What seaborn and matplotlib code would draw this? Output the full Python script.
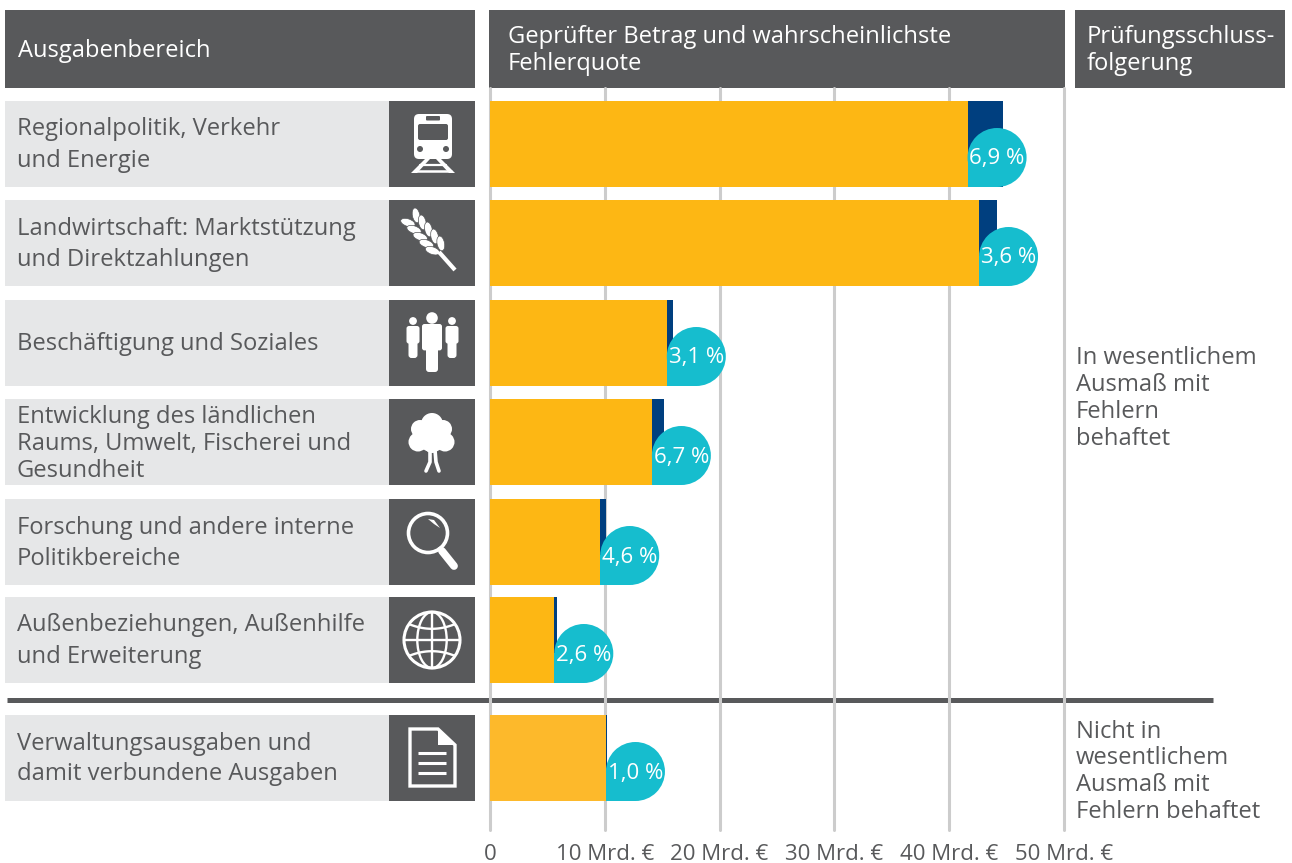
import numpy as np
import pandas as pd
import matplotlib
matplotlib.use('Agg')
import matplotlib.pyplot as plt
from matplotlib.patches import Rectangle, Circle, Ellipse, FancyBboxPatch, Polygon
import seaborn as sns

# values, Mrd. Euro
categories = ['Regionalpolitik', 'Landwirtschaft', 'Beschaeftigung', 'Entwicklung',
              'Forschung', 'Aussenbeziehungen', 'Verwaltung']
total_amount = [44.7, 44.2, 15.9, 15.2, 10.1, 5.8, 10.2]
correct_amount = [41.6, 42.6, 15.4, 14.1, 9.6, 5.6, 10.1]
error_labels = ['6,9 %', '3,6 %', '3,1 %', '6,7 %', '4,6 %', '2,6 %', '1,0 %']
row_labels = [['Regionalpolitik, Verkehr', 'und Energie'],
              ['Landwirtschaft: Marktstützung', 'und Direktzahlungen'],
              ['Beschäftigung und Soziales'],
              ['Entwicklung des ländlichen', 'Raums, Umwelt, Fischerei und', 'Gesundheit'],
              ['Forschung und andere interne', 'Politikbereiche'],
              ['Außenbeziehungen, Außenhilfe', 'und Erweiterung'],
              ['Verwaltungsausgaben und', 'damit verbundene Ausgaben']]
x_ticks = [0, 10, 20, 30, 40, 50]
x_tick_labels = ['0', '10 Mrd. €', '20 Mrd. €', '30 Mrd. €', '40 Mrd. €', '50 Mrd. €']

# layout in pixels
W, H = 1292, 863
row_center = [144, 243, 343, 442, 542, 640, 758]
row_h = 86
DARK = '#58595B'
LIGHT = '#E6E7E8'
YELLOW = '#FDB714'
YELLOW2 = '#FDB92B'
NAVY = '#003F7F'
CYAN = '#16BDCE'
GRID = '#CCCCCC'
TXT = '#58595B'

sns.set_theme(style='white')
plt.rcParams['font.family'] = ['Open Sans', 'DejaVu Sans']
FS = 17.1

fig = plt.figure(figsize=(W / 100, H / 100), dpi=100, facecolor='white')

# background axes in pixel coordinates for boxes, text and icons
bg = fig.add_axes([0, 0, 1, 1], zorder=1)
bg.set_xlim(0, W)
bg.set_ylim(H, 0)
bg.axis('off')


def label(x, y, s, color=TXT):
    bg.text(x, y + 3, s, color=color, fontsize=FS, va='center')


for x0, x1 in [(5, 475), (489, 1065), (1075, 1285)]:
    bg.add_patch(Rectangle((x0, 10), x1 - x0, 78, fc=DARK, ec='none'))
label(18, 48, 'Ausgabenbereich', 'white')
label(508, 34, 'Geprüfter Betrag und wahrscheinlichste', 'white')
label(508, 61, 'Fehlerquote', 'white')
label(1087, 34, 'Prüfungsschluss-', 'white')
label(1087, 61, 'folgerung', 'white')

line_gap = [32, 31, 0, 27, 31, 32, 30]
for c, lines, gap in zip(row_center, row_labels, line_gap):
    bg.add_patch(Rectangle((5, c - row_h / 2), 384, row_h, fc=LIGHT, ec='none'))
    bg.add_patch(Rectangle((389, c - row_h / 2), 86, row_h, fc=DARK, ec='none'))
    top = c - gap * (len(lines) - 1) / 2
    for i, line in enumerate(lines):
        label(17, top + i * gap - 2 + (1 if len(lines) == 3 else 0), line)

for y, t in zip([355, 382, 409, 436], ['In wesentlichem', 'Ausmaß mit', 'Fehlern', 'behaftet']):
    label(1076, y, t)
for y, t in zip([729, 755, 782, 809], ['Nicht in', 'wesentlichem', 'Ausmaß mit', 'Fehlern behaftet']):
    label(1076, y, t)

bg.plot([7, 1213], [700, 700], color=DARK, lw=3.6, solid_capstyle='butt', zorder=6)


# icons
def icon_train(cx, cy):
    bg.add_patch(FancyBboxPatch((cx - 18, cy - 30), 38, 45, boxstyle='round,pad=0,rounding_size=5',
                                fc='white', ec='none'))
    bg.add_patch(FancyBboxPatch((cx - 14, cy - 20), 30, 16, boxstyle='round,pad=0,rounding_size=2',
                                fc=DARK, ec='none'))
    bg.add_patch(FancyBboxPatch((cx - 6, cy - 28), 14, 4.5, boxstyle='round,pad=0,rounding_size=1',
                                fc=DARK, ec='none'))
    bg.add_patch(Circle((cx - 12, cy + 5), 3, fc=DARK, ec='none'))
    bg.add_patch(Circle((cx + 14, cy + 5), 3, fc=DARK, ec='none'))
    bg.add_patch(Polygon([(cx - 7, cy + 15), (cx - 2, cy + 15), (cx - 15, cy + 29), (cx - 21, cy + 29)],
                         fc='white', ec='none'))
    bg.add_patch(Polygon([(cx + 9, cy + 15), (cx + 4, cy + 15), (cx + 17, cy + 29), (cx + 23, cy + 29)],
                         fc='white', ec='none'))
    bg.plot([cx - 12, cx + 14], [cy + 21, cy + 21], color='white', lw=1.6)
    bg.plot([cx - 17, cx + 19], [cy + 27, cy + 27], color='white', lw=1.8)


def icon_wheat(cx, cy):
    bg.plot([cx + 7, cx + 23], [cy + 9, cy + 27], color='white', lw=3.0, solid_capstyle='butt')
    p0 = np.array([cx - 20, cy - 24])
    p1 = np.array([cx + 9, cy + 9])
    ang = np.degrees(np.arctan2(*(p1 - p0)[::-1]))
    n = np.array([-(p1 - p0)[1], (p1 - p0)[0]]) / np.linalg.norm(p1 - p0)
    for t in np.linspace(0.0, 0.85, 5):
        p = p0 + t * (p1 - p0)
        for side, a in [(1, -30), (-1, 30)]:
            q = p + side * n * 5.5
            bg.add_patch(Ellipse(q, 15, 7.5, angle=ang + a, fc='white', ec=DARK, lw=0.5))


def icon_people(cx, cy):
    for dx, dy, r, w, top, bot, leg in [(-19, -22, 3.9, 13, -17, 15, 9), (20, -22, 3.9, 13, -17, 15, 9),
                                        (0, -25, 5.8, 20, -19, 29, 12)]:
        bg.add_patch(Circle((cx + dx, cy + dy), r, fc='white', ec='none'))
        bg.add_patch(FancyBboxPatch((cx + dx - w / 2, cy + top), w, (bot - top) * 0.55,
                                    boxstyle='round,pad=0,rounding_size=2.5', fc='white', ec='none'))
        bg.add_patch(FancyBboxPatch((cx + dx - leg / 2, cy + top + 5), leg, bot - top - 5,
                                    boxstyle='round,pad=0,rounding_size=3', fc='white', ec='none'))


def icon_tree(cx, cy):
    for dx, dy, r in [(0, -18, 11), (-14, 0, 9.5), (13, 0, 9.5), (-12, -13, 9), (11, -13, 9), (0, -5, 15), (0, 3, 8)]:
        bg.add_patch(Circle((cx + dx, cy + dy), r, fc='white', ec='none'))
    bg.plot([cx - 2, cx - 2, cx - 6], [cy + 8, cy + 20, cy + 29], color='white', lw=2.6)
    bg.plot([cx + 3, cx + 4, cx + 7], [cy + 8, cy + 20, cy + 29], color='white', lw=2.6)


def icon_lens(cx, cy):
    bg.add_patch(Circle((cx - 4, cy - 9), 19.5, fc='none', ec='white', lw=2.6))
    bg.plot([cx + 10, cx + 22], [cy + 9, cy + 24], color='white', lw=5.6, solid_capstyle='round')
    bg.plot([cx + 7, cx + 10], [cy + 5, cy + 9], color='white', lw=2.4, solid_capstyle='butt')
    bg.add_patch(Polygon([(cx - 4, cy - 23), (cx + 2, cy - 22), (cx + 8, cy - 14), (cx + 2, cy - 18)],
                         fc='white', ec='none'))


def icon_globe(cx, cy):
    r = 28
    bg.add_patch(Circle((cx, cy), r, fc='none', ec='white', lw=2.2))
    bg.plot([cx, cx], [cy - r, cy + r], color='white', lw=1.7)
    bg.plot([cx - r, cx + r], [cy, cy], color='white', lw=1.7)
    bg.add_patch(Ellipse((cx, cy), r * 1.05, r * 2, fc='none', ec='white', lw=1.7))
    # parallels bend towards the equator
    for sign in [-1, 1]:
        u = np.linspace(-0.82, 0.82, 40)
        v = sign * (0.40 + 0.25 * u ** 2)
        bg.plot(cx + r * u, cy + r * v, color='white', lw=1.7)


def icon_doc(cx, cy):
    pts = [(cx - 22, cy - 29), (cx + 6, cy - 29), (cx + 23, cy - 13), (cx + 23, cy + 28), (cx - 22, cy + 28)]
    bg.add_patch(Polygon(pts, closed=True, fc='none', ec='white', lw=2.4))
    bg.add_patch(Polygon([(cx + 6, cy - 29), (cx + 23, cy - 13), (cx + 6, cy - 13)], fc='white', ec='none'))
    for dy in [-5, 5, 15]:
        bg.plot([cx - 14, cx + 14], [cy + dy, cy + dy], color='white', lw=2.2, solid_capstyle='butt')


icons = [icon_train, icon_wheat, icon_people, icon_tree, icon_lens, icon_globe, icon_doc]
for f, c in zip(icons, row_center):
    f(432, c)

# chart axes: x is money, y stays in pixels
x0_px, x1_px = 490, 1064
y0_px, y1_px = 88, 830
ax = fig.add_axes([x0_px / W, 1 - y1_px / H, (x1_px - x0_px) / W, (y1_px - y0_px) / H], zorder=2)
ax.patch.set_alpha(0)

df = pd.DataFrame({'cat': categories, 'pos': row_center, 'total': total_amount, 'correct': correct_amount})
bar_w = row_h / 98
sns.barplot(data=df, x='total', y='pos', orient='h', native_scale=True, color=NAVY,
            width=bar_w, saturation=1, linewidth=0, edgecolor='none', ax=ax, zorder=3)
sns.barplot(data=df, x='correct', y='pos', orient='h', native_scale=True, hue='cat',
            palette=[YELLOW] * 6 + [YELLOW2], dodge=False, legend=False,
            width=bar_w, saturation=1, linewidth=0, edgecolor='none', ax=ax, zorder=4)

ax.set_xlim(0, 50)
ax.set_ylim(y1_px, y0_px)
ax.set_xlabel('')
ax.set_ylabel('')
ax.set_yticks([])
ax.set_xticks(x_ticks)
ax.set_xticklabels(x_tick_labels, fontsize=16, color=TXT)
ax.tick_params(axis='x', length=0, pad=10)
sns.despine(ax=ax, left=True, bottom=True)
ax.grid(False)
ax.xaxis.grid(True, color=GRID, lw=2.2)
ax.set_axisbelow(True)
for l in ax.get_xgridlines():
    l.set_clip_on(False)

# error rate badges, circle with a square lower left corner
px_per_unit = (x1_px - x0_px) / 50
badge = 59
bw = badge / px_per_unit
for v, c, lab in zip(correct_amount, row_center, error_labels):
    bottom = c + row_h / 2
    ax.add_patch(Ellipse((v + bw / 2, bottom - badge / 2), bw, badge, fc=CYAN, ec='none', zorder=5))
    ax.add_patch(Rectangle((v, bottom - badge / 2), bw / 2, badge / 2, fc=CYAN, ec='none', zorder=5))
    ax.text(v + bw / 2, bottom - badge / 2 + 1.5, lab, color='white', fontsize=16, ha='center',
            va='center', zorder=6)

fig.savefig('out.png', dpi=100)
